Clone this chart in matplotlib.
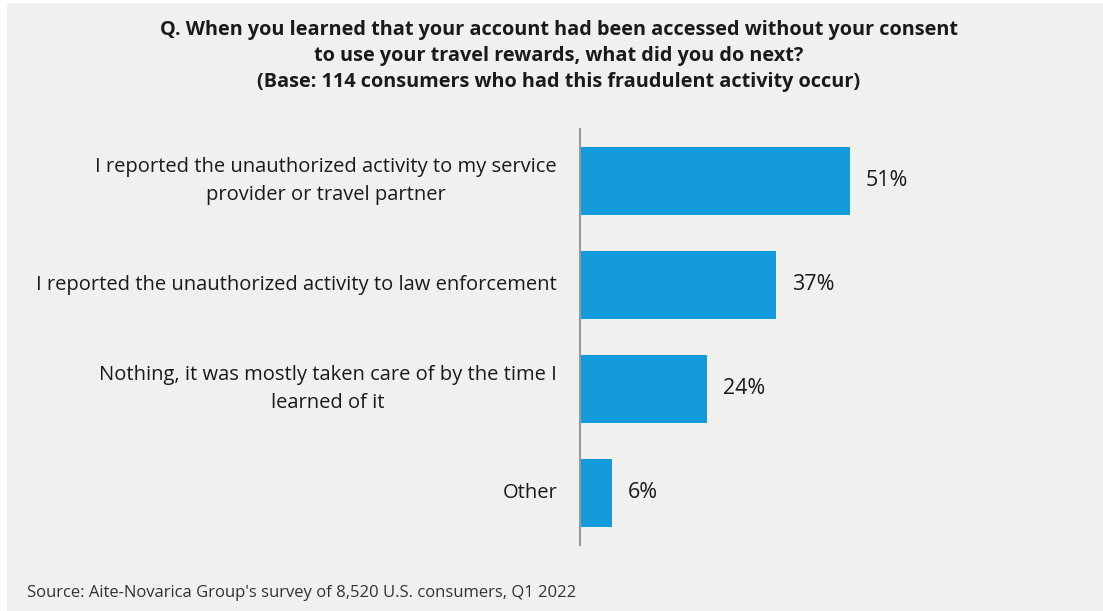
import matplotlib.pyplot as plt
from matplotlib.patches import Rectangle

plt.rcParams['font.family'] = ['Open Sans', 'DejaVu Sans']

# survey answers, top to bottom
answers = [
    "I reported the unauthorized activity to my service\nprovider or travel partner",
    "I reported the unauthorized activity to law enforcement",
    "Nothing, it was mostly taken care of by the time I\nlearned of it",
    "Other",
]
shares = [51, 37, 24, 6]

title = ("Q. When you learned that your account had been accessed without your consent\n"
         "to use your travel rewards, what did you do next?\n"
         "(Base: 114 consumers who had this fraudulent activity occur)")
source = "Source: Aite-Novarica Group's survey of 8,520 U.S. consumers, Q1 2022"

W, H = 1103, 611
fig = plt.figure(figsize=(W / 100, H / 100), dpi=100)
fig.patch.set_facecolor("white")
# grey panel behind everything, thin white margin on top and left
fig.patches.append(Rectangle((7 / W, 0), 1, 1 - 3 / H, transform=fig.transFigure,
                             facecolor="#f0f0ef", edgecolor="none", zorder=-10))

ax = fig.add_axes([580 / W, 66 / H, 470 / W, 416 / H])
ax.set_facecolor("none")
ypos = list(range(len(shares)))
ax.barh(ypos, shares, height=0.66, color="#139bdb")
ax.set_ylim(len(shares) - 0.5, -0.5)
ax.set_xlim(0, 470 / 5.29)

for y, v in zip(ypos, shares):
    ax.text(v + 3, y, f"{v}%", va="center", ha="left", fontsize=15.5, color="#1a1a1a")

ax.set_yticks([])
ax.set_xticks([])
for s in ["top", "right", "bottom"]:
    ax.spines[s].set_visible(False)
ax.spines["left"].set_color("#999999")
ax.spines["left"].set_linewidth(1.5)

# category labels: centered lines, block right-aligned next to the axis
for y, a in zip(ypos, answers):
    ax.annotate(a, xy=(0, y), xycoords=("axes fraction", "data"),
                xytext=(-16.5, 0), textcoords="offset points",
                ha="right", va="center", multialignment="center",
                fontsize=14.5, color="#1a1a1a", linespacing=1.5)

fig.text(559 / W, 1 - 56 / H, title, ha="center", va="center", fontsize=14.3,
         fontweight="bold", color="#1a1a1a", linespacing=1.42)
fig.text(27 / W, 1 - 593 / H, source, ha="left", va="center", fontsize=12, color="#333333")

fig.savefig("out.png", dpi=100, facecolor=fig.get_facecolor())
